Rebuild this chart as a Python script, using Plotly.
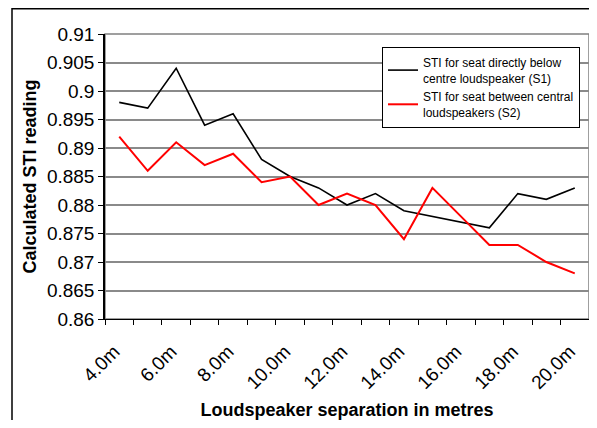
import plotly.graph_objects as go

categories = ["4.0m", "5.0m", "6.0m", "7.0m", "8.0m", "9.0m", "10.0m", "11.0m", "12.0m",
              "13.0m", "14.0m", "15.0m", "16.0m", "17.0m", "18.0m", "19.0m", "20.0m"]
tick_labels = [c if i % 2 == 0 else "" for i, c in enumerate(categories)]
s1_values = [0.898, 0.897, 0.904, 0.894, 0.896, 0.888, 0.885, 0.883, 0.880,
             0.882, 0.879, 0.878, 0.877, 0.876, 0.882, 0.881, 0.883]
s2_values = [0.892, 0.886, 0.891, 0.887, 0.889, 0.884, 0.885, 0.880, 0.882,
             0.880, 0.874, 0.883, 0.878, 0.873, 0.873, 0.870, 0.868]
s1_name = "STI for seat directly below<br>centre loudspeaker (S1)"
s2_name = "STI for seat between central<br>loudspeakers (S2)"
y_range = [0.86, 0.91]

OFF = 8  # page body margin
W, H = 597 - 2 * OFF, 428 - 2 * OFF
L, R, T, B = 105 - OFF, 589 - OFF, 34 - OFF, 319 - OFF

fig = go.Figure()
fig.add_trace(go.Scatter(x=categories, y=s1_values, mode="lines", name=s1_name,
                         line=dict(color="black", width=1.6)))
fig.add_trace(go.Scatter(x=categories, y=s2_values, mode="lines", name=s2_name,
                         line=dict(color="#ff0000", width=2)))

font = "Arial, Liberation Sans, sans-serif"
fig.update_layout(
    width=W, height=H,
    margin=dict(l=L, r=W - R, t=T, b=H - B, autoexpand=False),
    paper_bgcolor="white", plot_bgcolor="rgba(0,0,0,0)",
    font=dict(family=font, color="black"),
    showlegend=True,
    legend=dict(x=(580 - OFF - L) / (R - L), xanchor="right",
                y=(B - (47 - OFF)) / (B - T), yanchor="top",
                bordercolor="black", borderwidth=1, bgcolor="white",
                itemwidth=30,
                font=dict(size=12, family=font), tracegroupgap=2),
    xaxis=dict(type="category", tickvals=categories, ticktext=tick_labels,
               tickson="boundaries", ticks="outside", ticklen=5, tickcolor="black",
               tickangle=-45, tickfont=dict(size=19), ticklabelstandoff=13,
               ticklabelshift=-5, automargin=False,
               showgrid=False,
               showline=True, linecolor="black", linewidth=1,
               range=[-0.5, len(categories) - 0.5],
               title=dict(text="<b>Loudspeaker separation in metres</b>",
                          font=dict(size=18), standoff=12)),
    yaxis=dict(range=y_range, dtick=0.005, tick0=0.86, tickformat="~g",
               ticks="outside", ticklen=5, tickcolor="black", tickfont=dict(size=19),
               showgrid=True, gridcolor="#8a8a8a", gridwidth=2, automargin=False,
               showline=True, linecolor="black", linewidth=1.5, zeroline=False,
               title=dict(text="<b>Calculated STI reading</b>", font=dict(size=18), standoff=6)),
    yaxis2=dict(range=y_range, dtick=0.01, tick0=0.86, overlaying="y",
                showgrid=True, gridcolor="black", gridwidth=1, automargin=False,
                showticklabels=False, ticks="", showline=False, zeroline=False),
)

# plot-area border (grey) and outer chart frame (left/top)
fig.add_shape(type="rect", xref="paper", yref="paper", x0=0, x1=1, y0=0, y1=1,
              line=dict(color="#808080", width=1.5), layer="below")
fig.add_shape(type="rect", xref="paper", yref="paper",
              x0=(12 - OFF - L) / (R - L), x1=(620 - OFF - L) / (R - L),
              y0=(B - 440) / (B - T), y1=(B - 0.8) / (B - T),
              line=dict(color="black", width=1.5))

fig.write_html("out.html")
